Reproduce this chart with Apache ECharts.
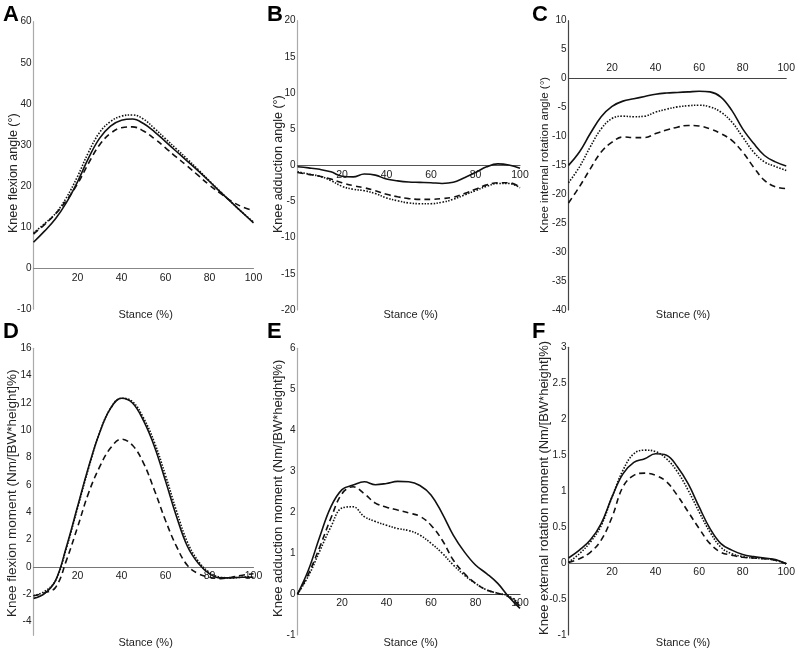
<!DOCTYPE html>
<html><head><meta charset="utf-8">
<script src="https://cdn.jsdelivr.net/npm/echarts@6/dist/echarts.min.js"></script>
<style>html,body{margin:0;padding:0;background:#fff}#c{width:798px;height:653px}</style>
</head><body><div id="c"></div>
<script>
// Stance (%) sample points
const stance = [0,5,10,15,20,25,30,35,40,45,50,55,60,65,70,75,80,85,90,95,100];
const xTickLabels = [20,40,60,80,100];

// A: Knee flexion angle (°)
const aSolid  = [6.3,9.0,12.0,16.0,21.0,26.8,31.6,34.6,36.0,36.3,35.2,33.2,30.8,28.4,26.0,23.6,21.1,18.5,16.0,13.5,11.0];
const aDotted = [8.6,10.8,13.3,17.2,22.3,28.2,33.0,35.7,37.0,37.3,36.3,34.0,31.5,29.0,26.5,23.9,21.2,18.6,16.0,13.5,11.2];
const aDashed = [8.3,10.6,13.2,16.5,20.5,25.5,30.0,32.8,34.2,34.4,33.4,31.5,29.3,27.0,24.8,22.5,20.2,18.2,16.3,14.9,14.0];

// B: Knee adduction angle (°)
const bSolid  = [-0.2,-0.35,-0.55,-0.9,-1.5,-1.6,-1.2,-1.35,-1.9,-2.15,-2.3,-2.35,-2.4,-2.5,-2.35,-1.7,-1.0,-0.2,0.2,0.05,-0.4];
const bDotted = [-0.9,-1.2,-1.5,-2.1,-2.9,-3.3,-3.5,-3.9,-4.5,-4.9,-5.2,-5.3,-5.3,-5.1,-4.7,-4.1,-3.5,-2.9,-2.5,-2.5,-3.1];
const bDashed = [-1.0,-1.25,-1.5,-1.9,-2.4,-2.8,-3.1,-3.5,-4.0,-4.35,-4.6,-4.7,-4.7,-4.6,-4.4,-3.9,-3.3,-2.7,-2.4,-2.4,-3.0];

// C: Knee internal rotation angle (°)
const cSolid  = [-15,-12.7,-9.5,-6.6,-4.8,-3.9,-3.5,-3.1,-2.7,-2.5,-2.4,-2.3,-2.2,-2.3,-3.2,-5.5,-8.7,-11.2,-13.3,-14.4,-15.1];
const cDotted = [-18,-15.3,-11.8,-8.7,-6.9,-6.5,-6.6,-6.5,-5.8,-5.3,-4.9,-4.7,-4.6,-4.9,-5.8,-7.5,-10.1,-12.7,-14.4,-15.2,-15.9];
const cDashed = [-21.5,-18.7,-15.6,-12.7,-11.0,-10.1,-10.2,-10.2,-9.5,-8.9,-8.4,-8.1,-8.2,-8.7,-9.5,-10.7,-12.7,-15.3,-17.6,-18.7,-19.0];

// D: Knee flexion moment
const dSolid  = [-2.3,-1.95,-1.0,1.5,4.4,7.3,9.8,11.6,12.35,12.0,10.7,8.8,6.3,3.7,1.5,0.25,-0.5,-0.8,-0.8,-0.75,-0.75];
const dDotted = [-2.1,-1.8,-1.0,1.4,4.3,7.2,9.8,11.6,12.35,12.1,10.9,9.1,6.7,4.1,1.8,0.4,-0.4,-0.75,-0.8,-0.75,-0.7];
const dDashed = [-2.1,-1.9,-1.5,0.5,2.9,5.4,7.3,8.7,9.35,8.9,7.6,5.6,3.4,1.5,0.1,-0.5,-0.75,-0.85,-0.75,-0.6,-0.5];

// E: Knee adduction moment
const eSolid  = [0,0.6,1.4,2.13,2.55,2.66,2.74,2.67,2.7,2.75,2.74,2.65,2.42,1.97,1.44,1.03,0.71,0.5,0.26,-0.07,-0.35];
const eDotted = [0,0.45,1.05,1.64,2.1,2.13,1.89,1.77,1.68,1.6,1.55,1.44,1.24,1.0,0.71,0.46,0.26,0.1,0.02,-0.05,-0.25];
const eDashed = [0,0.5,1.15,1.85,2.45,2.62,2.45,2.22,2.12,2.05,1.98,1.9,1.68,1.32,0.83,0.5,0.26,0.1,0.02,-0.07,-0.3];

// F: Knee external rotation moment
const fSolid  = [0.07,0.18,0.32,0.55,0.92,1.24,1.4,1.45,1.52,1.5,1.34,1.1,0.78,0.48,0.27,0.18,0.12,0.09,0.07,0.05,-0.01];
const fDotted = [0.01,0.13,0.29,0.52,0.92,1.29,1.52,1.57,1.55,1.45,1.27,1.01,0.71,0.43,0.22,0.13,0.09,0.07,0.06,0.04,-0.01];
const fDashed = [0.01,0.06,0.15,0.32,0.64,1.06,1.22,1.25,1.22,1.13,0.94,0.71,0.48,0.27,0.15,0.11,0.08,0.07,0.06,0.04,-0.01];

const panels = [
  {letter:'A', title:'Knee flexion angle (°)', min:-10, max:60, ticks:[-10,0,10,20,30,40,50,60], s:aSolid, d:aDotted, h:aDashed,
   grid:{left:33.5, top:21.7, width:220, height:287.5}, tx:13.5, ty:233, tf:12.5, yc:'#aaa', xc:'#888', inside:false},
  {letter:'B', title:'Knee adduction angle (°)', min:-20, max:20, ticks:[-20,-15,-10,-5,0,5,10,15,20], s:bSolid, d:bDotted, h:bDashed,
   grid:{left:297.5, top:20.7, width:222.5, height:289.3}, tx:278.5, ty:233, tf:12.5, yc:'#aaa', xc:'#555', inside:false},
  {letter:'C', title:'Knee internal rotation angle (°)', min:-40, max:10, ticks:[-40,-35,-30,-25,-20,-15,-10,-5,0,5,10], s:cSolid, d:cDotted, h:cDashed,
   grid:{left:568.5, top:20.7, width:222.5, height:289.3}, tx:545, ty:233, tf:11.5, yc:'#444', xc:'#444', inside:true},
  {letter:'D', title:'Knee flexion moment (Nm/[BW*height]%)', min:-5, max:16, ticks:[-4,-2,0,2,4,6,8,10,12,14,16], s:dSolid, d:dDotted, h:dDashed,
   grid:{left:33.5, top:348.3, width:220, height:287}, tx:12.5, ty:617, tf:13.5, yc:'#aaa', xc:'#777', inside:false},
  {letter:'E', title:'Knee adduction moment (Nm/[BW*height]%)', min:-1, max:6, ticks:[-1,0,1,2,3,4,5,6], s:eSolid, d:eDotted, h:eDashed,
   grid:{left:297.5, top:348.3, width:222.5, height:286.7}, tx:278.5, ty:617, tf:13, yc:'#aaa', xc:'#444', inside:false},
  {letter:'F', title:'Knee external rotation moment (Nm/[BW*height]%)', min:-1, max:3, ticks:[-1,-0.5,0,0.5,1,1.5,2,2.5,3], s:fSolid, d:fDotted, h:fDashed,
   grid:{left:568.5, top:347.3, width:222.5, height:287.7}, tx:544.5, ty:635, tf:13, yc:'#444', xc:'#666', inside:false}
];

const NARROW = "'Liberation Sans Narrow','Liberation Sans',Arial,sans-serif";
const SANS = "'Liberation Sans',Arial,sans-serif";

const grids=[], xAxes=[], yAxes=[], series=[], graphics=[];
panels.forEach((p,i)=>{
  grids.push(Object.assign({containLabel:false}, p.grid));
  // move the x axis up to the y = 0 level of its panel
  const zeroOffset = -p.grid.height * (0 - p.min) / (p.max - p.min);
  xAxes.push({type:'value', gridIndex:i, min:0, max:100, position:'bottom', offset:zeroOffset,
    axisLine:{onZero:false, lineStyle:{color:p.xc, width:1.2}},
    axisTick:{show:false}, splitLine:{show:false},
    axisLabel:{customValues:xTickLabels, inside:p.inside, margin:p.inside?5:4, color:'#222', fontSize:10.5, fontFamily:NARROW}
  });
  yAxes.push({type:'value', gridIndex:i, min:p.min, max:p.max,
    axisLine:{show:true, onZero:false, lineStyle:{color:p.yc, width:1.2}},
    axisTick:{show:false}, splitLine:{show:false},
    axisLabel:{customValues:p.ticks, margin:2, color:'#222', fontSize:10, fontFamily:NARROW}
  });
  const mk=(vals,type,w,z)=>({type:'line', xAxisIndex:i, yAxisIndex:i, smooth:0.4, showSymbol:false, silent:true, z:z,
    data: stance.map((x,k)=>[x, vals[k]]), lineStyle:{color:'#111', width:w, type:type}});
  series.push(mk(p.h,[6,4],1.6,2));
  series.push(mk(p.d,[1.5,1.5],1.6,3));
  series.push(mk(p.s,'solid',1.6,4));
  const col = i%3, row = Math.floor(i/3);
  const lx = [3,267,532][col], ly = [4,321][row];
  graphics.push({type:'text', left:lx, top:ly, style:{text:p.letter, font:"bold 22px 'Liberation Sans',Arial,sans-serif", fill:'#000'}});
  const sx = [145.6,410.7,683][col], sy=[315,643][row];
  graphics.push({type:'text', x:sx, y:sy, style:{text:'Stance (%)', font:"11px "+NARROW, fill:'#222', align:'center', verticalAlign:'middle'}});
  graphics.push({type:'text', x:p.tx, y:p.ty, rotation:Math.PI/2, style:{text:p.title, font:p.tf+"px "+SANS, fill:'#222', align:'left', verticalAlign:'middle'}});
});

const chart = echarts.init(document.getElementById('c'), null, {renderer:'canvas'});
chart.setOption({animation:false, backgroundColor:'#fff', grid:grids, xAxis:xAxes, yAxis:yAxes, series:series, graphic:graphics});
</script></body></html>
